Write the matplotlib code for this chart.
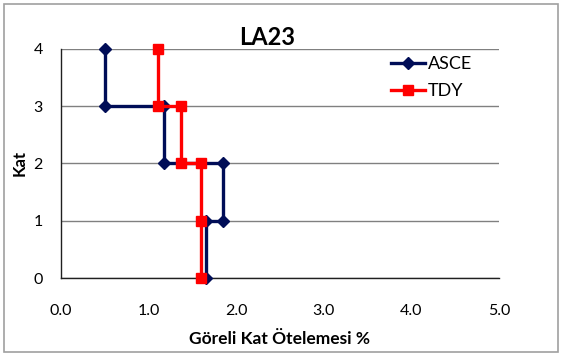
import matplotlib
matplotlib.use("Agg")
import matplotlib.pyplot as plt
from matplotlib.patches import Rectangle

plt.rcParams['font.family'] = ['Lato', 'DejaVu Sans']

# ASCE drift profile (step shape)
asce_x = [0.50, 0.50, 1.18, 1.18, 1.85, 1.85, 1.66, 1.66]
asce_y = [4, 3, 3, 2, 2, 1, 1, 0]
# TDY drift profile
tdy_x = [1.11, 1.11, 1.37, 1.37, 1.60, 1.60, 1.60]
tdy_y = [4, 3, 3, 2, 2, 1, 0]

x_ticks = [0.0, 1.0, 2.0, 3.0, 4.0, 5.0]
y_ticks = [0, 1, 2, 3, 4]

fig = plt.figure(figsize=(5.63, 3.56), dpi=100)
fig.patches.append(Rectangle((0.007, 0.011), 0.984, 0.978, transform=fig.transFigure,
                             fill=False, edgecolor='#a0a0a0', linewidth=1.2))
ax = fig.add_axes([0.1083, 0.2191, 0.7780, 0.6433])

for y in y_ticks:
    ax.axhline(y, color='#808080', linewidth=1.0, zorder=1)

ax.plot(asce_x, asce_y, color='#000d57', linewidth=2.4, marker='D', markersize=6,
        label='ASCE', zorder=3, clip_on=False)
ax.plot(tdy_x, tdy_y, color='#ff0000', linewidth=2.4, marker='s', markersize=6.5,
        label='TDY', zorder=4, clip_on=False)

ax.set_xlim(0, 5)
ax.set_ylim(0, 4)
ax.set_xticks(x_ticks)
ax.set_xticklabels([f"{v:.1f}" for v in x_ticks])
ax.set_yticks(y_ticks)
ax.tick_params(length=0, labelsize=11.5)
ax.tick_params(axis='x', pad=19)
ax.tick_params(axis='y', pad=13)

for side in ['top', 'right']:
    ax.spines[side].set_visible(False)
for side in ['left', 'bottom']:
    ax.spines[side].set_color('#202020')
    ax.spines[side].set_linewidth(1.0)
    ax.spines[side].set_zorder(2)

ax.set_title('LA23', fontsize=17, fontweight='bold', pad=2, x=0.47)
ax.set_xlabel('Göreli Kat Ötelemesi %', fontsize=12.5, fontweight='bold', labelpad=9)
ax.set_ylabel('Kat', fontsize=12, fontweight='bold', labelpad=4)

ax.legend(loc='upper right', bbox_to_anchor=(0.975, 1.04), frameon=False, fontsize=13,
          handlelength=1.9, handletextpad=0.15, labelspacing=0.6)

fig.savefig('out.png', dpi=100)
